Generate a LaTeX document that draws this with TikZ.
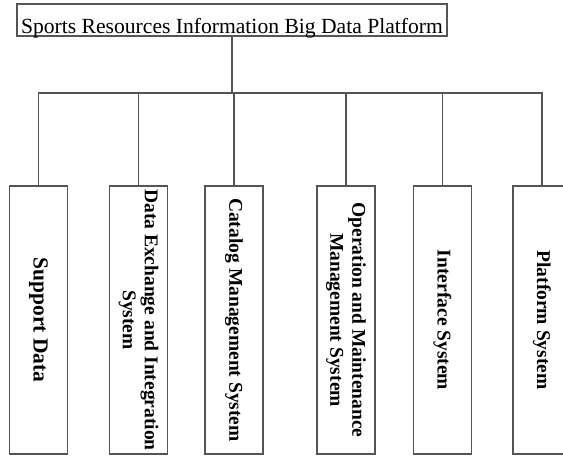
\documentclass[tikz,border=0pt]{standalone}
\usepackage{fontspec}
\setmainfont{Liberation Serif}
\usetikzlibrary{positioning}
\definecolor{framegray}{RGB}{85,85,85}
\tikzset{
    every picture/.style = {
        x = 1pt,
        y = -1pt
    },
    rootbox/.style = {
        draw = framegray,
        line width = 1.2pt,
        minimum width = 430pt,
        text height = 28pt,
        text depth = 2pt,
        inner sep = 1pt,
        font = \fontsize{21.6}{24}\selectfont
    },
    subsys/.style = {
        draw = framegray,
        line width = 1.2pt,
        rotate = -90,
        minimum width = 268pt,
        minimum height = 58pt,
        inner sep = 1pt,
        align = center,
        font = \bfseries\fontsize{19.5}{22}\selectfont
    },
    link/.style = {
        draw = framegray,
        line width = 1.2pt
    }
}

\begin{document}
\begin{tikzpicture}
    \useasboundingbox (0,0) rectangle (563,456);
    \clip (0,0) rectangle (563,456);

    \node[rootbox] (top) at (232,20) {Sports Resources Information Big Data Platform};
    \coordinate (hub) at (232,93);

    \node[subsys, font = \bfseries\fontsize{21.5}{22}\selectfont] (sd) at (38.5,320) {Support Data};
    \node[subsys] (dx) at (138.5,320) {Data Exchange and Integration\\System};
    \node[subsys] (cm) at (234,320) {Catalog Management System};
    \node[subsys] (om) at (346,320) {Operation and Maintenance\\Management System};
    \node[subsys] (is) at (442.5,320) {Interface System};
    \node[subsys] (ps) at (542,320) {Platform System};

    \path[link] (top.south) -- (hub);
    \foreach \b in {sd,dx,cm,om,is,ps}
        \path[link] (hub) -| (\b.west);
\end{tikzpicture}
\end{document}
